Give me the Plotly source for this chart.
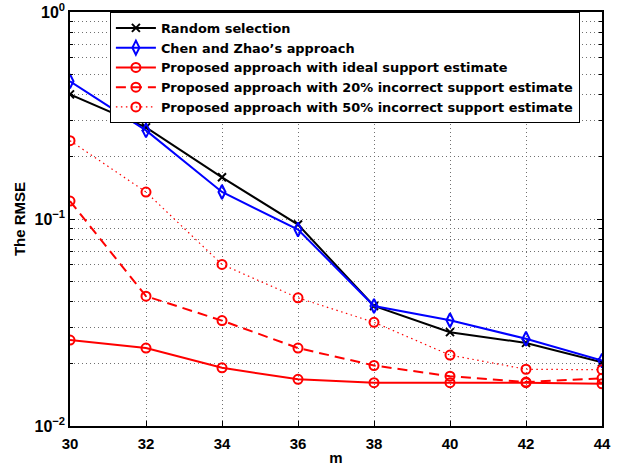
import plotly.graph_objects as go

m = [30, 32, 34, 36, 38, 40, 42, 44]

random_sel = [0.400, 0.277, 0.159, 0.094, 0.038, 0.0284, 0.0252, 0.0203]
chen_zhao = [0.463, 0.268, 0.135, 0.089, 0.038, 0.0324, 0.0264, 0.0207]
ideal = [0.0260, 0.0238, 0.0191, 0.0168, 0.0162, 0.0162, 0.0162, 0.0160]
incorrect20 = [0.122, 0.0424, 0.0323, 0.0238, 0.0196, 0.0174, 0.0163, 0.0170]
incorrect50 = [0.239, 0.135, 0.0603, 0.0416, 0.0317, 0.0220, 0.0188, 0.0187]

names = [
    "Random selection",
    "Chen and Zhao\u2019s approach",
    "Proposed approach with ideal support estimate",
    "Proposed approach with 20% incorrect support estimate",
    "Proposed approach with 50% incorrect support estimate",
]

FONT = "Liberation Sans, Arial, Helvetica, sans-serif"
LEGEND_FONT = "DejaVu Sans, Liberation Sans, sans-serif"


def bold(size, family=FONT):
    return dict(family=family, size=size, color="black", weight="bold")


fig = go.Figure()

fig.add_trace(go.Scatter(
    x=m, y=random_sel, name=names[0], mode="lines+markers",
    line=dict(color="black", width=2),
    marker=dict(symbol="x-thin", size=8, line=dict(color="black", width=2)),
))
fig.add_trace(go.Scatter(
    x=m, y=chen_zhao, name=names[1], mode="lines+markers",
    line=dict(color="#0000ff", width=2),
    marker=dict(symbol="diamond-tall-open", size=10, color="#0000ff", line=dict(width=2)),
))
fig.add_trace(go.Scatter(
    x=m, y=ideal, name=names[2], mode="lines+markers",
    line=dict(color="#ff0000", width=2),
    marker=dict(symbol="circle-open", size=9, color="#ff0000", line=dict(width=2)),
))
fig.add_trace(go.Scatter(
    x=m, y=incorrect20, name=names[3], mode="lines+markers",
    line=dict(color="#ff0000", width=2, dash="10px,6px"),
    marker=dict(symbol="circle-open", size=9, color="#ff0000", line=dict(width=2)),
))
fig.add_trace(go.Scatter(
    x=m, y=incorrect50, name=names[4], mode="lines+markers",
    line=dict(color="#ff0000", width=1.2, dash="1.5px,3.5px"),
    marker=dict(symbol="circle-open", size=9, color="#ff0000", line=dict(width=2)),
))

minor_vals = [k * 10 ** e for e in (-2, -1) for k in range(2, 10)]

grid = dict(gridcolor="#707070", griddash="1px,3px", gridwidth=1)

fig.update_layout(
    width=621, height=468,
    margin=dict(l=70, r=19, t=12, b=42),
    paper_bgcolor="white", plot_bgcolor="white",
    font=bold(15),
    showlegend=True,
    legend=dict(
        x=0.075, y=1.0, xanchor="left", yanchor="top",
        bgcolor="white", bordercolor="black", borderwidth=1,
        font=bold(12.9, LEGEND_FONT),
        itemwidth=40, tracegroupgap=0,
    ),
    xaxis=dict(
        range=[30, 44], tickvals=m, ticktext=[str(v) for v in m],
        automargin=False,
        showline=True, linecolor="black", linewidth=1.5, mirror="ticks",
        ticks="inside", ticklen=5, tickcolor="black",
        showgrid=True, **grid, zeroline=False,
        tickfont=bold(15), ticklabelstandoff=3,
        title=dict(text="m", standoff=2, font=bold(15)),
    ),
    yaxis=dict(
        type="log", range=[-2, 0],
        tickvals=[0.01, 0.1, 1],
        ticktext=["10<sup>\u22122</sup>", "10<sup>\u22121</sup>", "10<sup>0</sup>"],
        automargin=False,
        showline=True, linecolor="black", linewidth=1.5, mirror="ticks",
        ticks="inside", ticklen=5, tickcolor="black",
        showgrid=True, **grid, zeroline=False,
        minor=dict(tickvals=minor_vals, ticks="inside", ticklen=3,
                   tickcolor="black", showgrid=True, **grid),
        tickfont=bold(16),
        title=dict(text="The RMSE", standoff=5, font=bold(15)),
    ),
)

fig.write_html("out.html")
